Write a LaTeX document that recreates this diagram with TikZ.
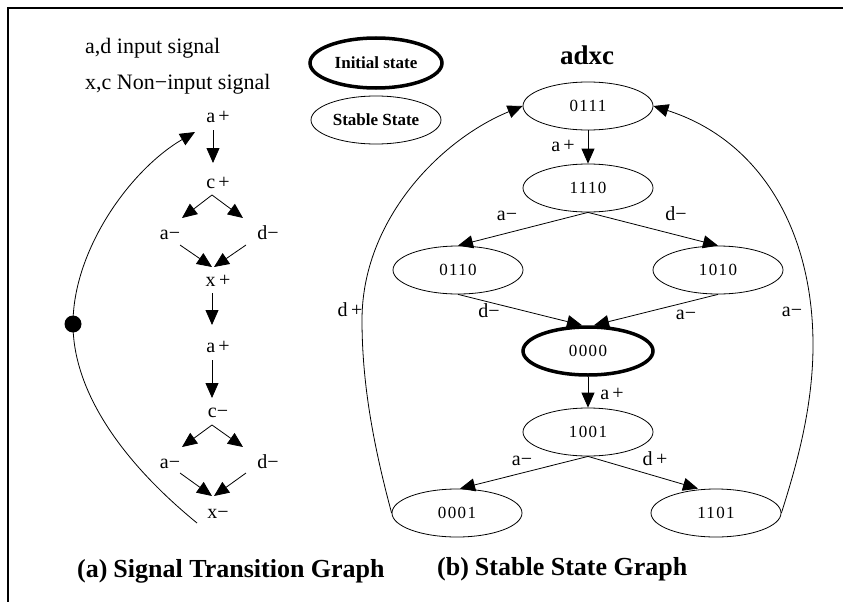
\documentclass[tikz,border=0pt]{standalone}
\usepackage{fontspec}
\setmainfont{Liberation Serif}
\newfontfamily\digitfont[LetterSpace=8]{Liberation Serif}
\usetikzlibrary{shapes.geometric,arrows.meta}

\tikzset{
  arr/.style={line width=0.8pt,-{Triangle[length=15pt,width=13pt]}},
  lbl/.style={inner sep=0pt,font=\fontsize{20}{22}\selectfont,text height=10pt,text depth=0pt},
  legend/.style={anchor=west,inner sep=0pt,font=\fontsize{22}{26}\selectfont},
  capt/.style={anchor=west,inner sep=0pt,font=\bfseries\fontsize{26}{30}\selectfont},
  st/.style={ellipse,draw,line width=0.8pt,minimum width=130pt,minimum height=48pt,
             inner sep=0pt,font=\digitfont\fontsize{17}{19}\selectfont},
  initst/.style={st,line width=3.5pt},
  keybox/.style={ellipse,draw,line width=0.8pt,minimum width=130pt,minimum height=48pt,
             inner sep=0pt,font=\bfseries\fontsize{17}{20}\selectfont},
  token/.style={circle,fill=black,inner sep=0pt,minimum size=17pt}
}

\begin{document}
\begin{tikzpicture}[x=1pt,y=-1pt]
\useasboundingbox (0,0) rectangle (843,602);

% frame
\draw[line width=2pt] (843,8) -- (8,8) -- (8,602);

% legend
\node[legend] (lg1) at (85,48) {a,d input signal};
\node[legend] (lg2) at (85,84) {x,c Non−input signal};
\node[keybox,line width=3.5pt,minimum width=132pt,minimum height=50pt] (kinit) at (376,63) {Initial state};
\node[keybox] (kstab) at (376,120) {Stable State};

% ---------- signal transition graph ----------
\node[lbl] (t1) at (218,117) {a\,+};
\node[lbl] (t2) at (218,183) {c\,+};
\node[lbl] (t3) at (170,234) {a−};
\node[lbl] (t4) at (268,234) {d−};
\node[lbl] (t5) at (218,281) {x\,+};
\node[lbl] (t6) at (218,347) {a\,+};
\node[lbl] (t7) at (218,412) {c−};
\node[lbl] (t8) at (170,463) {a−};
\node[lbl] (t9) at (268,463) {d−};
\node[lbl] (t10) at (218,513) {x−};
\node[token] (tok) at (73,324) {};

\draw[arr] ([shift={(-5,13)}]t1.center) -- ([shift={(-5,-20)}]t2.center);
\draw[arr] ([shift={(-6,12)}]t2.center) -- ([shift={(12,-16)}]t3.center);
\draw[arr] ([shift={(-6,12)}]t2.center) -- ([shift={(-25,-16)}]t4.center);
\draw[arr] ([shift={(10,11)}]t3.center) -- ([shift={(-6,-14)}]t5.center);
\draw[arr] ([shift={(-22,11)}]t4.center) -- ([shift={(-4,-14)}]t5.center);
\draw[arr] ([shift={(-6,12)}]t5.center) -- ([shift={(-6,-22)}]t6.center);
\draw[arr] ([shift={(-6,13)}]t6.center) -- ([shift={(-6,-14)}]t7.center);
\draw[arr] ([shift={(-6,13)}]t7.center) -- ([shift={(12,-16)}]t8.center);
\draw[arr] ([shift={(-6,13)}]t7.center) -- ([shift={(-25,-16)}]t9.center);
\draw[arr] ([shift={(10,10)}]t8.center) -- ([shift={(-6,-17)}]t10.center);
\draw[arr] ([shift={(-22,10)}]t9.center) -- ([shift={(-4,-17)}]t10.center);

% token arc from x- back to a+
\draw[arr] ([shift={(-21,10)}]t10.center) .. controls (120,460) and (73,390) .. (tok.center)
           .. controls (73,250) and (130,170) .. ([shift={(-23,15)}]t1.center);

% ---------- stable state graph ----------
\node[font=\bfseries\fontsize{27}{30}\selectfont,inner sep=0pt] (ttl) at (587,55) {adxc};

\node[st] (s0111) at (588,106) {0111};
\node[st] (s1110) at (588,188) {1110};
\node[st] (s0110) at (458,270) {0110};
\node[st] (s1010) at (718,270) {1010};
\node[initst] (s0000) at (588,351) {0000};
\node[st] (s1001) at (588,432) {1001};
\node[st] (s0001) at (457,513) {0001};
\node[st] (s1101) at (716,513) {1101};

\draw[arr] (s0111.south) -- (s1110.north);
\draw[arr] (s1110.south) -- (s0110.north);
\draw[arr] (s1110.south) -- (s1010.north);
\draw[arr] (s0110.south) -- ([xshift=-6pt]s0000.north);
\draw[arr] (s1010.south) -- ([xshift=6pt]s0000.north);
\draw[arr] (s0000.south) -- (s1001.north);
\draw[arr] (s1001.south) -- ([xshift=3pt]s0001.north);
\draw[arr] (s1001.south) -- ([xshift=-18pt]s1101.north);
\draw[arr] (s0001.west) .. controls (372,440) and (362,380) .. (362,320)
           .. controls (362,220) and (440,140) .. (s0111.west);
\draw[arr] (s1101.east) .. controls (795,470) and (813,410) .. (813,345)
           .. controls (813,230) and (760,140) .. (s0111.east);

\node[lbl] (e1) at (563,146) {a\,+};
\node[lbl] (e2) at (507,215) {a−};
\node[lbl] (e3) at (676,215) {d−};
\node[lbl] (e4) at (489,312) {d−};
\node[lbl] (e5) at (686,314) {a−};
\node[lbl] (e6) at (612,394) {a\,+};
\node[lbl] (e7) at (522,460) {a−};
\node[lbl] (e8) at (655,460) {d\,+};
\node[lbl] (e9) at (350,311) {d\,+};
\node[lbl] (e10) at (792,311) {a−};

% captions
\node[capt] (ca) at (77,571) {(a)\hspace{6pt}Signal Transition Graph};
\node[capt] (cb) at (437,569) {(b)\hspace{6pt}Stable State Graph};
\end{tikzpicture}
\end{document}
